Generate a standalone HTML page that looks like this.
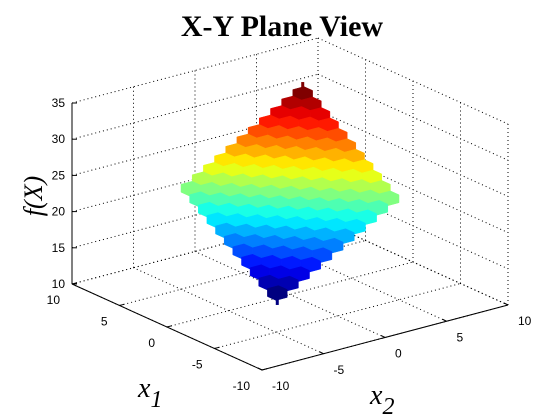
<!DOCTYPE html>
<html><head><meta charset="utf-8"><style>
body{margin:0;background:#fff}
svg{display:block}
text{font-family:"Liberation Sans",sans-serif}
</style></head><body>
<svg id="chart" width="560" height="420" viewBox="0 0 560 420">
<text x="282" y="36" text-anchor="middle" style="font-family:'Liberation Serif',serif;font-weight:bold;font-size:30px">X-Y Plane View</text>
<g id="grid"></g>
<g id="axes"></g>
<g id="surf"></g>
<text x="42" y="196" transform="rotate(-90 42 196)" text-anchor="middle" style="font-family:'Liberation Serif',serif;font-style:italic;font-size:26px">f(X)</text>
<text x="138" y="397" style="font-family:'Liberation Serif',serif;font-style:italic;font-size:28px">x<tspan dy="10" font-size="24">1</tspan></text>
<text x="370" y="404" style="font-family:'Liberation Serif',serif;font-style:italic;font-size:28px">x<tspan dy="10" font-size="24">2</tspan></text>
</svg>
<script>
const x1Vals=[-5,-4,-3,-2,-1,0,1,2,3,4,5];
const x2Vals=[-5,-4,-3,-2,-1,0,1,2,3,4,5];
const zRows=[
[15.5,16.4,17.3,18.2,19.1,20,20.9,21.8,22.7,23.6,24.5],
[16.4,17.3,18.2,19.1,20,20.9,21.8,22.7,23.6,24.5,25.4],
[17.3,18.2,19.1,20,20.9,21.8,22.7,23.6,24.5,25.4,26.3],
[18.2,19.1,20,20.9,21.8,22.7,23.6,24.5,25.4,26.3,27.2],
[19.1,20,20.9,21.8,22.7,23.6,24.5,25.4,26.3,27.2,28.1],
[20,20.9,21.8,22.7,23.6,24.5,25.4,26.3,27.2,28.1,29],
[20.9,21.8,22.7,23.6,24.5,25.4,26.3,27.2,28.1,29,29.9],
[21.8,22.7,23.6,24.5,25.4,26.3,27.2,28.1,29,29.9,30.8],
[22.7,23.6,24.5,25.4,26.3,27.2,28.1,29,29.9,30.8,31.7],
[23.6,24.5,25.4,26.3,27.2,28.1,29,29.9,30.8,31.7,32.6],
[24.5,25.4,26.3,27.2,28.1,29,29.9,30.8,31.7,32.6,33.5]];
const zTicks=[10,15,20,25,30,35];
const xTicks=[-10,-5,0,5,10];

const NS='http://www.w3.org/2000/svg';
function P(a,b,z){return [262+(a+10)*-9.5+(b+10)*12.3, 370+(a+10)*-4.3+(b+10)*-3.25+(z-10)*-7.24];}
function el(tag,attrs,parent){const e=document.createElementNS(NS,tag);for(const k in attrs)e.setAttribute(k,attrs[k]);parent.appendChild(e);return e;}
function line(p,q,parent,dash){return el('line',{x1:p[0],y1:p[1],x2:q[0],y2:q[1],stroke:'#000','stroke-width':1,'stroke-dasharray':dash?'1,3':'none'},parent);}
const grid=document.getElementById('grid'),axes=document.getElementById('axes'),surf=document.getElementById('surf');
const zmin=10,zmax=35;
xTicks.forEach(t=>{
  const g1=line(P(t,-10,zmin),P(t,10,zmin),grid,true);
  
  
  const g2=line(P(-10,t,zmin),P(10,t,zmin),grid,true);
  
  
  const v1=line(P(10,t,zmin),P(10,t,zmax),grid,true);
  
  
  const v2=line(P(t,10,zmin),P(t,10,zmax),grid,true);
  
  
});
zTicks.forEach(z=>{
  const h1=line(P(10,-10,z),P(10,10,z),grid,true);
  
  
  const h2=line(P(10,10,z),P(-10,10,z),grid,true);
  
  
  const p=P(10,-10,z);
  const tk=line(p,[p[0]+5,p[1]],axes,false);
  
  
  const lb=el('text',{x:p[0]-7,y:p[1]+4,'text-anchor':'end','font-size':'12'},axes);
  lb.textContent=z;
  
  
});
const ax1=line(P(10,-10,zmin),P(-10,-10,zmin),axes,false);


const ax2=line(P(-10,-10,zmin),P(-10,10,zmin),axes,false);


const az=line(P(10,-10,zmin),P(10,-10,zmax),axes,false);


xTicks.forEach(t=>{
  let p=P(t,-10,zmin);
  const t1=line(p,[p[0]+5,p[1]-1.3],axes,false);
  
  
  const l1=el('text',{x:p[0]-12,y:p[1]+20,'text-anchor':'end','font-size':'12'},axes);
  l1.textContent=t;
  
  
  p=P(-10,t,zmin);
  const t2=line(p,[p[0]-4,p[1]-2],axes,false);
  
  
  const l2=el('text',{x:p[0]+10,y:p[1]+20,'text-anchor':'start','font-size':'12'},axes);
  l2.textContent=t;
  
  
});
function jet(v){
  const f=(x)=>Math.max(0,Math.min(1,x));
  const r=f(1.5-Math.abs(4*v-3)),g=f(1.5-Math.abs(4*v-2)),b=f(1.5-Math.abs(4*v-1));
  return 'rgb('+Math.round(r*255)+','+Math.round(g*255)+','+Math.round(b*255)+')';
}
let lo=Infinity,hi=-Infinity;zRows.forEach(r=>r.forEach(z=>{lo=Math.min(lo,z);hi=Math.max(hi,z);}));
const h=10/x1Vals.length/2;
const sTop=P(x1Vals[x1Vals.length-1]*10/11,x2Vals[x2Vals.length-1]*10/11,hi);
const st=line(sTop,[sTop[0],sTop[1]-8],surf,false);
st.setAttribute('stroke',jet(1));st.setAttribute('stroke-width','3');


const cells=[];
x1Vals.forEach((a,i)=>x2Vals.forEach((b,j)=>cells.push([i,j])));
cells.sort((p,q)=>{const dp=x1Vals[p[0]]+x2Vals[p[1]],dq=x1Vals[q[0]]+x2Vals[q[1]];return dq-dp;});
cells.forEach(([i,j])=>{
  const a=x1Vals[i]*10/11,b=x2Vals[j]*10/11,z=zRows[i][j];
  const dz=1.1;
  const pts=[P(a+h,b-h,z),P(a+h,b+h,z),P(a-h,b+h,z),P(a-h,b+h,z-dz),P(a-h,b-h,z-dz),P(a+h,b-h,z-dz)];
  const c=jet((z-lo)/(hi-lo));
  const poly=el('polygon',{points:pts.map(p=>p[0].toFixed(1)+','+p[1].toFixed(1)).join(' '),fill:c,stroke:c,'stroke-width':0.5},surf);
  
  
});
const sBot=P(x1Vals[0]*10/11,x2Vals[0]*10/11,lo-1.1);
const sb=line(sBot,[sBot[0],sBot[1]+8],surf,false);
sb.setAttribute('stroke',jet(0));sb.setAttribute('stroke-width','3');


</script>
</body></html>
